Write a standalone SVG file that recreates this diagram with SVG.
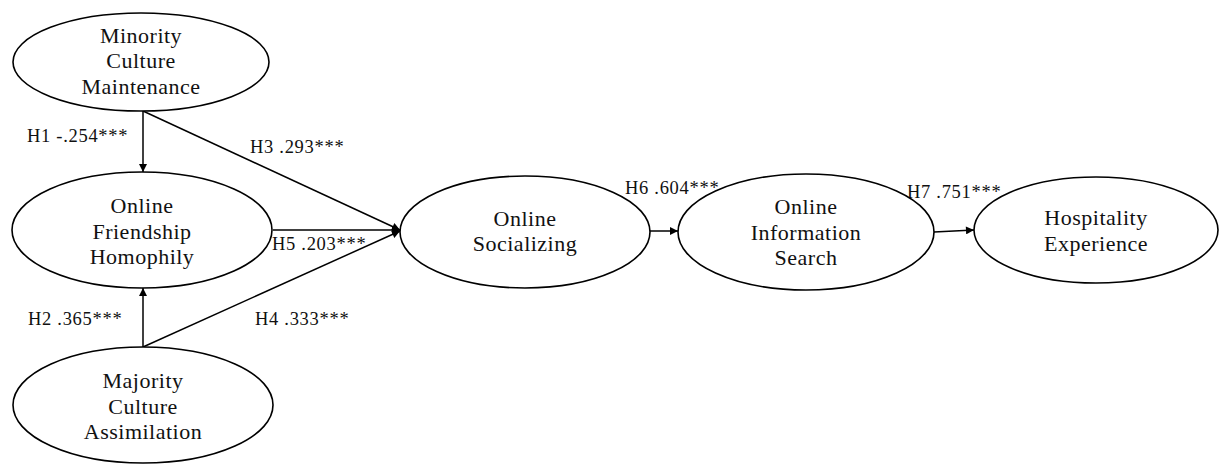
<svg xmlns="http://www.w3.org/2000/svg" width="1225" height="464" viewBox="0 0 1225 464">
<style>
.node{fill:#fff;stroke:#000;stroke-width:1.6}
.nt{font-family:"Liberation Serif","Times New Roman",serif;font-size:22px;letter-spacing:0.5px;fill:#111;text-anchor:middle}
.lb{font-family:"Liberation Serif","Times New Roman",serif;font-size:18.5px;letter-spacing:0.7px;fill:#111}
.edge{stroke:#000;stroke-width:1.5;fill:none;marker-end:url(#ah)}
</style>
<defs>
<marker id="ah" viewBox="0 0 10 10" refX="10" refY="5" markerWidth="10" markerHeight="8" markerUnits="userSpaceOnUse" orient="auto">
<path d="M0,0 L10,5 L0,10 z" fill="#000"/>
</marker>
</defs>
<g id="connectors">
<line class="edge" x1="143" y1="111" x2="143" y2="172"/>
<line class="edge" x1="143" y1="347" x2="143" y2="288"/>
<line class="edge" x1="143" y1="111" x2="400" y2="230"/>
<line class="edge" x1="273" y1="230" x2="400" y2="230"/>
<line class="edge" x1="143" y1="347" x2="400" y2="231"/>
<line class="edge" x1="650" y1="231" x2="678" y2="231"/>
<line class="edge" x1="934" y1="232" x2="974" y2="230"/>
<text class="lb" x="27" y="142">H1 -.254***</text>
<text class="lb" x="250" y="153">H3 .293***</text>
<text class="lb" x="272" y="250">H5 .203***</text>
<text class="lb" x="28" y="325">H2 .365***</text>
<text class="lb" x="255" y="325">H4 .333***</text>
<text class="lb" x="625" y="194">H6 .604***</text>
<text class="lb" x="907" y="198">H7 .751***</text>
</g>
<g id="minority">
<ellipse class="node" cx="141" cy="62" rx="128" ry="49"/>
<text class="nt" x="141" y="43">Minority</text>
<text class="nt" x="141" y="68">Culture</text>
<text class="nt" x="141" y="94">Maintenance</text>
</g>
<g id="homophily">
<ellipse class="node" cx="142" cy="230" rx="130" ry="58"/>
<text class="nt" x="142" y="213">Online</text>
<text class="nt" x="142" y="239">Friendship</text>
<text class="nt" x="142" y="264">Homophily</text>
</g>
<g id="majority">
<ellipse class="node" cx="143" cy="405" rx="130" ry="58"/>
<text class="nt" x="143" y="388">Majority</text>
<text class="nt" x="143" y="414">Culture</text>
<text class="nt" x="143" y="439">Assimilation</text>
</g>
<g id="socializing">
<ellipse class="node" cx="525" cy="232" rx="125" ry="56"/>
<text class="nt" x="525" y="226">Online</text>
<text class="nt" x="525" y="251">Socializing</text>
</g>
<g id="search">
<ellipse class="node" cx="806" cy="232" rx="128" ry="58"/>
<text class="nt" x="806" y="214">Online</text>
<text class="nt" x="806" y="240">Information</text>
<text class="nt" x="806" y="265">Search</text>
</g>
<g id="hospitality">
<ellipse class="node" cx="1096" cy="230" rx="122" ry="53"/>
<text class="nt" x="1096" y="225">Hospitality</text>
<text class="nt" x="1096" y="251">Experience</text>
</g>
</svg>
